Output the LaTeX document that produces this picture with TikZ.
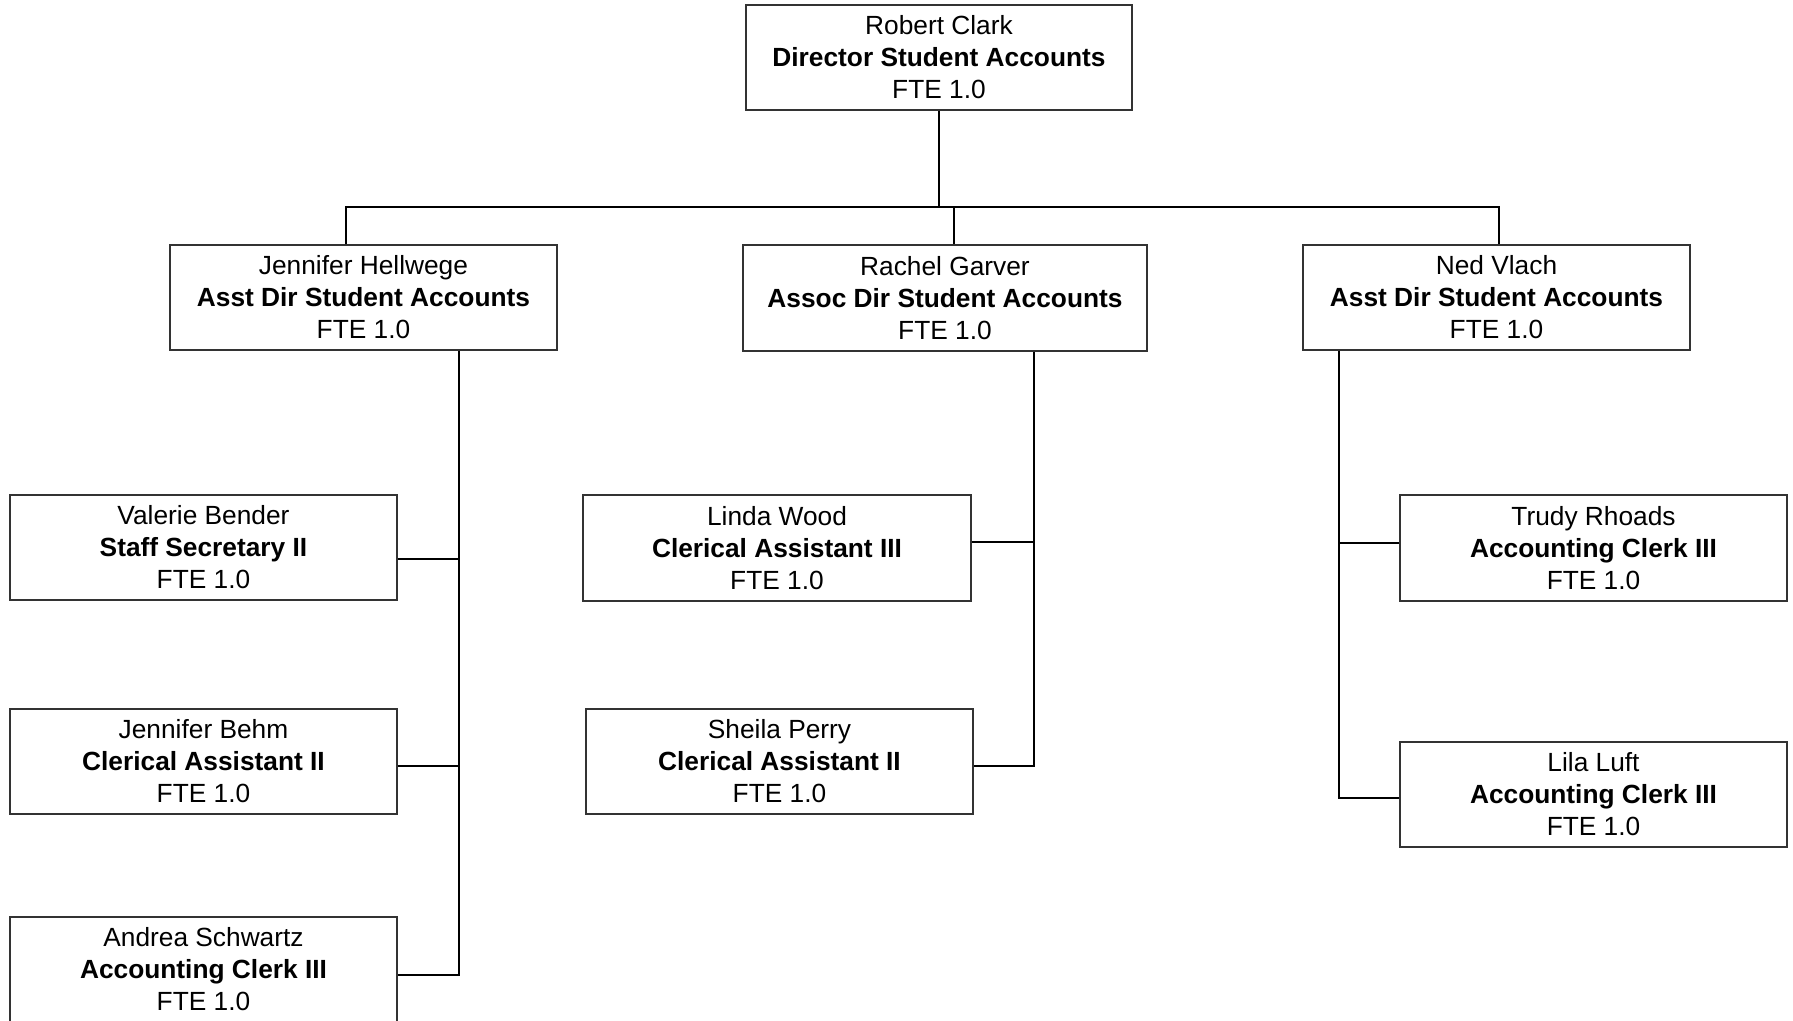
\documentclass[tikz,border=0pt]{standalone}
\usepackage{fontspec}
\setmainfont{Liberation Sans}
\usetikzlibrary{calc}
\begin{document}
\begin{tikzpicture}[x=1pt,y=-1pt,
  person/.style={draw=black!80,line width=1.4pt,fill=white,inner sep=0pt,
    minimum height=105pt,align=center,
    font=\fontsize{26.3}{32}\selectfont},
  link/.style={draw=black,line width=2.2pt}]
\clip (0,0) rectangle (1793,1020);
\useasboundingbox (0,0) rectangle (1793,1020);
\fill[white] (0,0) rectangle (1793,1020);
% connectors first
\coordinate (bus) at (939,207);
\node[person,minimum width=386pt] (dir) at (939,57.5) {Robert Clark\\\textbf{Director Student Accounts}\\FTE 1.0};
\node[person,minimum width=387pt] (jh) at (363.5,297.5) {Jennifer Hellwege\\\textbf{Asst Dir Student Accounts}\\FTE 1.0};
\node[person,minimum width=404pt,minimum height=106pt] (rg) at (945,298) {Rachel Garver\\\textbf{Assoc Dir Student Accounts}\\FTE 1.0};
\node[person,minimum width=387pt] (nv) at (1496.5,297.5) {Ned Vlach\\\textbf{Asst Dir Student Accounts}\\FTE 1.0};
\node[person,minimum width=387pt] (vb) at (203.5,547.5) {Valerie Bender\\\textbf{Staff Secretary II}\\FTE 1.0};
\node[person,minimum width=387pt] (jb) at (203.5,761.5) {Jennifer Behm\\\textbf{Clerical Assistant II}\\FTE 1.0};
\node[person,minimum width=387pt] (as) at (203.5,969.5) {Andrea Schwartz\\\textbf{Accounting Clerk III}\\FTE 1.0};
\node[person,minimum width=388pt,minimum height=106pt] (lw) at (777,548) {Linda Wood\\\textbf{Clerical Assistant III}\\FTE 1.0};
\node[person,minimum width=387pt] (sp) at (779.5,761.5) {Sheila Perry\\\textbf{Clerical Assistant II}\\FTE 1.0};
\node[person,minimum width=387pt,minimum height=106pt] (tr) at (1593.5,548) {Trudy Rhoads\\\textbf{Accounting Clerk III}\\FTE 1.0};
\node[person,minimum width=387pt] (ll) at (1593.5,794.5) {Lila Luft\\\textbf{Accounting Clerk III}\\FTE 1.0};
% top level
\draw[link] (dir.south) -- (bus);
\draw[link] ([xshift=-17.5pt]jh.north) -- ([xshift=-17.5pt]jh.north |- bus) -| ([xshift=2.5pt]nv.north);
\draw[link] ([xshift=9pt]rg.north) -- ([xshift=9pt]rg.north |- bus);
% Jennifer Hellwege branch
\draw[link] ([xshift=95.5pt]jh.south) |- ([yshift=-5.5pt]as.east);
\draw[link] ([yshift=-11.5pt]vb.east) -| ([xshift=95.5pt]jh.south);
\draw[link] ([yshift=-4.5pt]jb.east) -| ([xshift=95.5pt]jh.south);
% Rachel Garver branch
\draw[link] ([xshift=89pt]rg.south) |- ([yshift=-4.5pt]sp.east);
\draw[link] ([yshift=6pt]lw.east) -| ([xshift=89pt]rg.south);
% Ned Vlach branch
\draw[link] ([xshift=-157.5pt]nv.south) |- ([yshift=-3.5pt]ll.west);
\draw[link] ([yshift=5pt]tr.west) -| ([xshift=-157.5pt]nv.south);
\end{tikzpicture}
\end{document}
